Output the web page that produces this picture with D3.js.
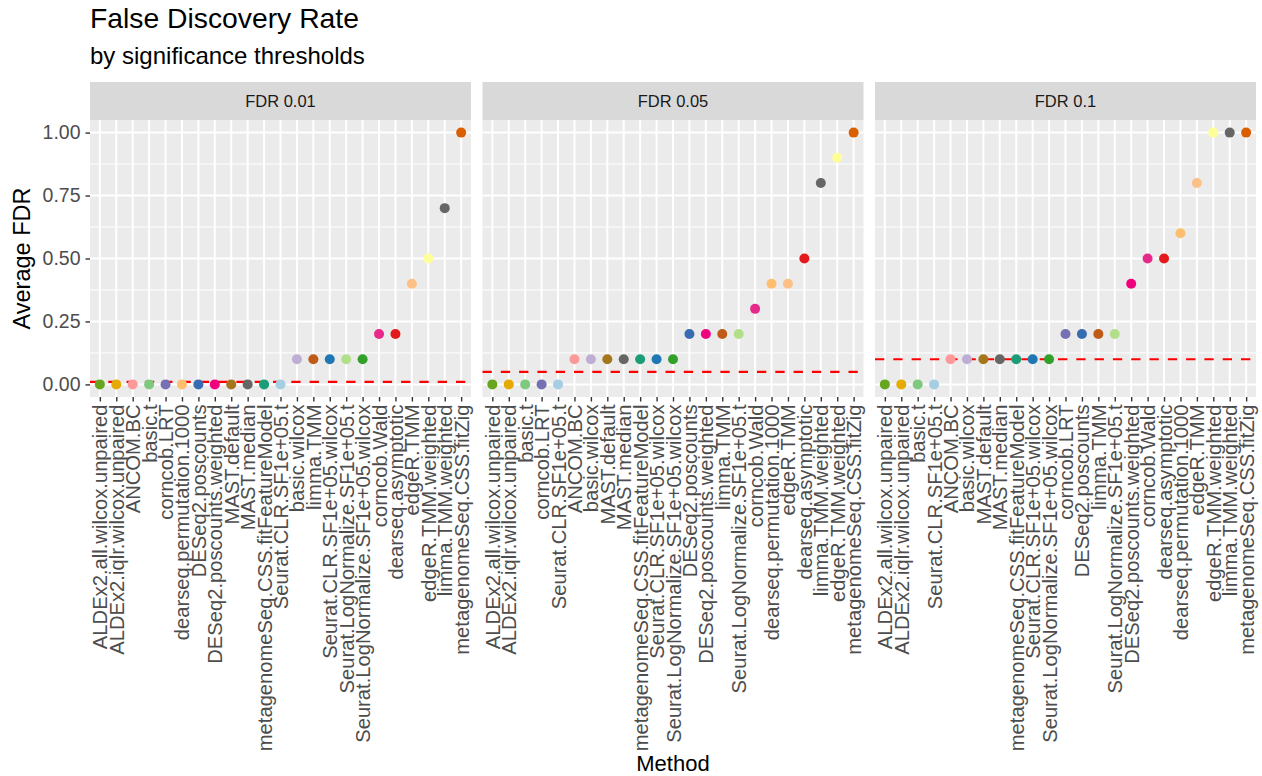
<!DOCTYPE html>
<html>
<head>
<meta charset="utf-8">
<script src="https://cdn.jsdelivr.net/npm/d3@7"></script>
<style>
  html, body { margin: 0; padding: 0; background: #ffffff; }
  svg { display: block; font-family: "Liberation Sans", Arial, sans-serif; }
</style>
</head>
<body>
<svg id="chart" width="1262" height="776"></svg>
<script>
// Facet labels and the significance threshold each facet refers to
const facetLabels = ["FDR 0.01", "FDR 0.05", "FDR 0.1"];
const thresholds = [0.01, 0.05, 0.1];

// Methods in plotting order (sorted by average FDR) for each facet
const methods01 = [
  "ALDEx2.all.wilcox.unpaired", "ALDEx2.iqlr.wilcox.unpaired", "ANCOM.BC", "basic.t",
  "corncob.LRT", "dearseq.permutation.1000", "DESeq2.poscounts", "DESeq2.poscounts.weighted",
  "MAST.default", "MAST.median", "metagenomeSeq.CSS.fitFeatureModel", "Seurat.CLR.SF1e+05.t",
  "basic.wilcox", "limma.TMM", "Seurat.CLR.SF1e+05.wilcox", "Seurat.LogNormalize.SF1e+05.t",
  "Seurat.LogNormalize.SF1e+05.wilcox", "corncob.Wald", "dearseq.asymptotic", "edgeR.TMM",
  "edgeR.TMM.weighted", "limma.TMM.weighted", "metagenomeSeq.CSS.fitZig"
];
const fdr01 = [0, 0, 0, 0, 0, 0, 0, 0, 0, 0, 0, 0,
  0.1, 0.1, 0.1, 0.1, 0.1, 0.2, 0.2, 0.4, 0.5, 0.7, 1.0];

const methods05 = [
  "ALDEx2.all.wilcox.unpaired", "ALDEx2.iqlr.wilcox.unpaired", "basic.t", "corncob.LRT",
  "Seurat.CLR.SF1e+05.t", "ANCOM.BC", "basic.wilcox", "MAST.default", "MAST.median",
  "metagenomeSeq.CSS.fitFeatureModel", "Seurat.CLR.SF1e+05.wilcox",
  "Seurat.LogNormalize.SF1e+05.wilcox", "DESeq2.poscounts", "DESeq2.poscounts.weighted",
  "limma.TMM", "Seurat.LogNormalize.SF1e+05.t", "corncob.Wald", "dearseq.permutation.1000",
  "edgeR.TMM", "dearseq.asymptotic", "limma.TMM.weighted", "edgeR.TMM.weighted",
  "metagenomeSeq.CSS.fitZig"
];
const fdr05 = [0, 0, 0, 0, 0, 0.1, 0.1, 0.1, 0.1, 0.1, 0.1, 0.1,
  0.2, 0.2, 0.2, 0.2, 0.3, 0.4, 0.4, 0.5, 0.8, 0.9, 1.0];

const methods10 = [
  "ALDEx2.all.wilcox.unpaired", "ALDEx2.iqlr.wilcox.unpaired", "basic.t", "Seurat.CLR.SF1e+05.t",
  "ANCOM.BC", "basic.wilcox", "MAST.default", "MAST.median", "metagenomeSeq.CSS.fitFeatureModel",
  "Seurat.CLR.SF1e+05.wilcox", "Seurat.LogNormalize.SF1e+05.wilcox", "corncob.LRT",
  "DESeq2.poscounts", "limma.TMM", "Seurat.LogNormalize.SF1e+05.t", "DESeq2.poscounts.weighted",
  "corncob.Wald", "dearseq.asymptotic", "dearseq.permutation.1000", "edgeR.TMM",
  "edgeR.TMM.weighted", "limma.TMM.weighted", "metagenomeSeq.CSS.fitZig"
];
const fdr10 = [0, 0, 0, 0, 0.1, 0.1, 0.1, 0.1, 0.1, 0.1, 0.1,
  0.2, 0.2, 0.2, 0.2, 0.4, 0.5, 0.5, 0.6, 0.8, 1.0, 1.0, 1.0];

// Y axis ticks
const yTicks = [0, 0.25, 0.5, 0.75, 1.0];
const yMinor = [0.125, 0.375, 0.625, 0.875];

// One colour per method, shared by all facets
const methodNames = [
  "ALDEx2.all.wilcox.unpaired", "ALDEx2.iqlr.wilcox.unpaired", "ANCOM.BC", "basic.t",
  "corncob.LRT", "dearseq.permutation.1000", "DESeq2.poscounts", "DESeq2.poscounts.weighted",
  "MAST.default", "MAST.median", "metagenomeSeq.CSS.fitFeatureModel", "Seurat.CLR.SF1e+05.t",
  "basic.wilcox", "limma.TMM", "Seurat.CLR.SF1e+05.wilcox", "Seurat.LogNormalize.SF1e+05.t",
  "Seurat.LogNormalize.SF1e+05.wilcox", "corncob.Wald", "dearseq.asymptotic", "edgeR.TMM",
  "edgeR.TMM.weighted", "limma.TMM.weighted", "metagenomeSeq.CSS.fitZig"
];
const methodColors = [
  "#66A61E", "#E6AB02", "#FB9A99", "#7FC97F",
  "#7570B3", "#FDBF6F", "#386CB0", "#F0027F",
  "#A6761D", "#666666", "#1B9E77", "#A6CEE3",
  "#BEAED4", "#BF5B17", "#1F78B4", "#B2DF8A",
  "#33A02C", "#E7298A", "#E31A1C", "#FDC086",
  "#FFFF99", "#666666", "#D95F02"
];

const facets = [
  { label: facetLabels[0], threshold: thresholds[0], methods: methods01, values: fdr01 },
  { label: facetLabels[1], threshold: thresholds[1], methods: methods05, values: fdr05 },
  { label: facetLabels[2], threshold: thresholds[2], methods: methods10, values: fdr10 }
];

const color = d3.scaleOrdinal().domain(methodNames).range(methodColors);

// Layout
const svg = d3.select("#chart");
const panelTop = 120, panelBottom = 397;
const stripTop = 82;
const panelLefts = [90, 482.5, 875];
const panelWidth = 381;

const y = d3.scaleLinear().domain([-0.05, 1.05]).range([panelBottom, panelTop]);

// Titles
svg.append("text").attr("x", 90).attr("y", 28)
  .attr("font-size", 28.3).attr("fill", "#000").text("False Discovery Rate");
svg.append("text").attr("x", 90).attr("y", 64)
  .attr("font-size", 24).attr("fill", "#000").text("by significance thresholds");

// Y axis (left of the first panel)
const yAxis = svg.append("g").attr("transform", `translate(${panelLefts[0]},0)`)
  .call(d3.axisLeft(y).tickValues(yTicks).tickFormat(d3.format(".2f")).tickSize(4.5).tickPadding(5));
yAxis.select(".domain").remove();
yAxis.selectAll(".tick line").attr("stroke", "#333333").attr("stroke-width", 1.4);
yAxis.selectAll(".tick text").attr("font-size", 19.5).attr("fill", "#4D4D4D")
  .attr("font-family", "Liberation Sans, Arial, sans-serif");

svg.append("text")
  .attr("transform", `translate(30,${(panelTop + panelBottom) / 2}) rotate(-90)`)
  .attr("text-anchor", "middle").attr("font-size", 23.5).attr("fill", "#000")
  .text("Average FDR");

// X axis title
svg.append("text").attr("x", (panelLefts[0] + panelLefts[2] + panelWidth) / 2).attr("y", 771)
  .attr("text-anchor", "middle").attr("font-size", 22).attr("fill", "#000").text("Method");

facets.forEach((f, i) => {
  const x0 = panelLefts[i];
  const x = d3.scalePoint().domain(f.methods).range([x0, x0 + panelWidth]).padding(0.6);
  const g = svg.append("g");

  // strip
  g.append("rect").attr("x", x0).attr("y", stripTop)
    .attr("width", panelWidth).attr("height", panelTop - stripTop).attr("fill", "#D9D9D9");
  g.append("text").attr("x", x0 + panelWidth / 2).attr("y", (stripTop + panelTop) / 2)
    .attr("text-anchor", "middle").attr("dominant-baseline", "central")
    .attr("font-size", 16.5).attr("fill", "#1A1A1A").text(f.label);

  // panel background
  g.append("rect").attr("x", x0).attr("y", panelTop)
    .attr("width", panelWidth).attr("height", panelBottom - panelTop).attr("fill", "#EBEBEB");

  // grid
  g.selectAll(".ymin").data(yMinor).join("line")
    .attr("x1", x0).attr("x2", x0 + panelWidth)
    .attr("y1", d => y(d)).attr("y2", d => y(d))
    .attr("stroke", "#ffffff").attr("stroke-width", 1);
  g.selectAll(".ymaj").data(yTicks).join("line")
    .attr("x1", x0).attr("x2", x0 + panelWidth)
    .attr("y1", d => y(d)).attr("y2", d => y(d))
    .attr("stroke", "#ffffff").attr("stroke-width", 2);
  g.selectAll(".xmaj").data(f.methods).join("line")
    .attr("x1", d => x(d)).attr("x2", d => x(d))
    .attr("y1", panelTop).attr("y2", panelBottom)
    .attr("stroke", "#ffffff").attr("stroke-width", 2);

  // threshold line
  g.append("line")
    .attr("x1", x0).attr("x2", x0 + panelWidth)
    .attr("y1", y(f.threshold)).attr("y2", y(f.threshold))
    .attr("stroke", "#FF0000").attr("stroke-width", 2.2)
    .attr("stroke-dasharray", "9.3,9");

  // points
  g.selectAll("circle").data(f.methods.map((m, j) => ({ m, v: f.values[j] }))).join("circle")
    .attr("cx", d => x(d.m)).attr("cy", d => y(d.v)).attr("r", 5)
    .attr("fill", d => color(d.m));

  // x axis with rotated method labels
  const xAxis = g.append("g").attr("transform", `translate(0,${panelBottom})`)
    .call(d3.axisBottom(x).tickSize(4.5).tickPadding(3));
  xAxis.select(".domain").remove();
  xAxis.selectAll(".tick line").attr("stroke", "#333333").attr("stroke-width", 1.4);
  xAxis.selectAll(".tick text")
    .attr("font-size", 20.2).attr("fill", "#4D4D4D")
    .attr("font-family", "Liberation Sans, Arial, sans-serif")
    .attr("text-anchor", "end").attr("dominant-baseline", "central")
    .attr("dy", null)
    .attr("transform", "translate(0,7.5) rotate(-90)")
    .attr("x", 0).attr("y", 0);
});
</script>
</body>
</html>
